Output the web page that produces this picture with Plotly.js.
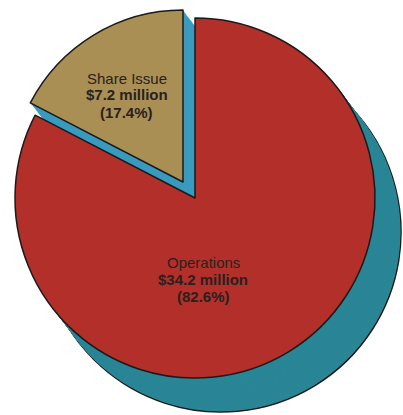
<!DOCTYPE html>
<html>
<head>
<meta charset="utf-8">
<script src="https://cdn.plot.ly/plotly-3.0.1.min.js"></script>
<style>html,body{margin:0;padding:0;background:#fff;}#chart{width:403px;height:415px;}</style>
</head>
<body>
<div id="chart"></div>
<script>
// ---- data ----
const labels = ['Operations', 'Share Issue'];
const values = [34.2, 7.2];          // $ million
const percents = [82.6, 17.4];       // %

// ---- styling / geometry ----
const W = 403, H = 415;
const topColors = ['#b3302a', '#a98f53'];
const sideColors = ['#2a8696', '#3a9bbf'];
// per-slice pie centre (px) and radius (px)
const geom = [
  {cx: 195, cy: 198, r: 180},   // Operations
  {cx: 183, cy: 182, r: 172}    // Share Issue (pulled out)
];
const depth = {dx: 26, dy: 34};
const layers = 44;

function pieTrace(idx, color, dx, dy, lineW) {
  const g = geom[idx];
  const cx = g.cx + dx, cy = g.cy + dy, r = g.r;
  const cols = values.map((v, i) => i === idx ? color : 'rgba(0,0,0,0)');
  const lws = values.map((v, i) => i === idx ? lineW : 0);
  return {
    type: 'pie',
    labels: labels,
    values: values,
    sort: false,
    direction: 'clockwise',
    rotation: 0,
    textinfo: 'none',
    hoverinfo: 'skip',
    showlegend: false,
    domain: {
      x: [(cx - r) / W, (cx + r) / W],
      y: [1 - (cy + r) / H, 1 - (cy - r) / H]
    },
    marker: {colors: cols, line: {color: '#1a1a1a', width: lws}}
  };
}

const traces = [];
// extrusion: farthest layer first (with outline), nearer layers on top
for (let k = layers; k >= 1; k--) {
  const f = k / layers;
  for (let i = 0; i < values.length; i++) {
    traces.push(pieTrace(i, sideColors[i], depth.dx * f, depth.dy * f, k === layers ? 1.5 : 0));
  }
}
// top faces
for (let i = 0; i < values.length; i++) {
  traces.push(pieTrace(i, topColors[i], 0, 0, 1.5));
}

// label positions (px)
const labelPos = [
  {x: 203, y: [262, 279, 296]},
  {x: 127, y: [78, 95, 112]}
];
const annotations = [];
labels.forEach((lab, i) => {
  const lines = [lab, '<b>$' + values[i].toFixed(1) + ' million</b>', '<b>(' + percents[i].toFixed(1) + '%)</b>'];
  lines.forEach((t, j) => {
    annotations.push({
      xref: 'paper', yref: 'paper',
      x: labelPos[i].x / W, y: 1 - labelPos[i].y[j] / H,
      xanchor: 'center', yanchor: 'middle',
      text: t, showarrow: false,
      font: {family: 'Liberation Sans, Arial, sans-serif', size: 15, color: '#2a2020'}
    });
  });
});

const layout = {
  width: W, height: H,
  margin: {l: 0, r: 0, t: 0, b: 0},
  paper_bgcolor: '#ffffff',
  plot_bgcolor: '#ffffff',
  showlegend: false,
  annotations: annotations
};

Plotly.newPlot('chart', traces, layout, {staticPlot: true, displayModeBar: false});
</script>
</body>
</html>
